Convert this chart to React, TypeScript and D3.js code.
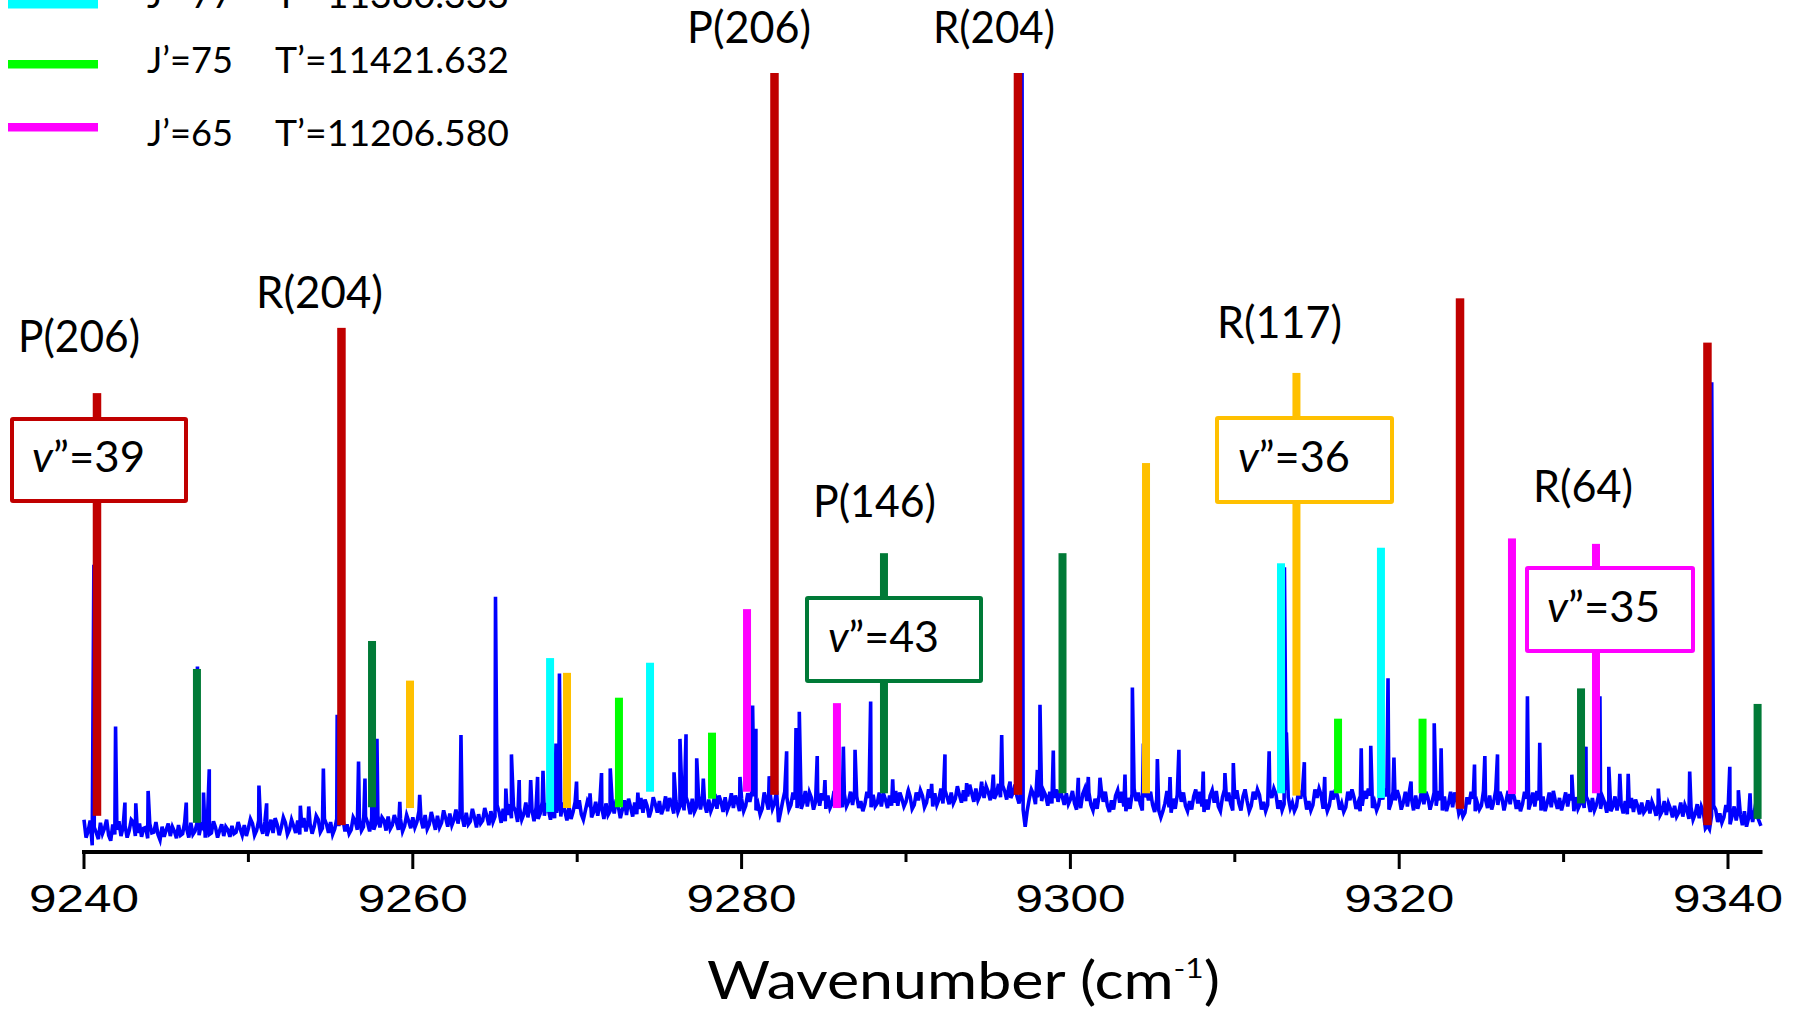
import React from "react";
import * as d3 from "d3";

// ---------- data ----------
const majorTicks = [9240, 9260, 9280, 9300, 9320, 9340];
const minorTicks = [9250, 9270, 9290, 9310, 9330];
const axisEnd = 9342.1;

// measured spectrum baseline, sampled every 0.25 cm-1 from 9240.00 to 9342.00
const baseStart = 9240;
const baseStep = 0.25;
const baseline = [
  // 9240
  3.9, 2.4, 0.6, 2.2, 3.5, 2.8, 1.9, 3.3, 2.6, 1.8,
  3.1, 2.5, 3.6, 2.2, 1.7, 2.9, 3.4, 2.3, 2.0, 3.0,
  2.6, 1.8, 2.4, 3.2, 2.1, 2.7, 3.5, 2.4, 1.9, 2.8,
  3.3, 2.2, 2.9, 2.5, 1.8, 2.6, 3.1, 2.3, 2.7, 3.2,
  // 9250
  2.8, 3.4, 2.5, 3.0, 3.6, 2.7, 2.2, 3.3, 2.9, 3.5,
  2.6, 3.1, 3.8, 2.9, 2.4, 3.4, 3.0, 3.9, 2.8, 3.3,
  3.6, 2.7, 3.1, 4.0, 3.3, 2.6, 3.7, 4.2, 3.0, 3.5,
  4.1, 3.4, 2.9, 3.8, 4.3, 3.2, 3.6, 4.0, 3.1, 3.7,
  // 9260
  4.2, 3.6, 3.9, 4.5, 3.3, 3.8, 4.4, 3.5, 4.1, 4.7,
  3.9, 3.4, 4.3, 4.8, 3.7, 4.2, 4.6, 3.8, 4.4, 5.0,
  4.3, 4.9, 5.3, 4.5, 4.1, 5.0, 5.4, 4.6, 4.2, 5.1,
  5.5, 4.7, 4.4, 5.2, 5.7, 4.8, 4.3, 5.0, 5.6, 4.9,
  // 9270
  5.3, 4.6, 5.1, 5.8, 4.9, 4.4, 5.4, 6.0, 5.0, 4.7,
  5.6, 5.2, 4.5, 5.5, 6.1, 5.3, 4.8, 5.7, 5.1, 5.9,
  6.3, 5.4, 5.0, 5.8, 6.4, 5.6, 5.1, 6.0, 6.6, 5.5,
  5.2, 5.9, 6.5, 5.7, 5.3, 6.2, 6.8, 5.8, 5.4, 6.1,
  // 9280
  6.6, 5.7, 6.2, 6.9, 5.9, 5.3, 6.4, 7.0, 6.0, 3.6,
  6.3, 6.8, 5.8, 6.5, 7.1, 6.1, 5.6, 6.7, 6.2, 5.7,
  6.4, 7.0, 6.0, 5.5, 6.6, 7.2, 6.2, 5.8, 6.9, 6.3,
  5.9, 6.7, 7.1, 6.0, 5.6, 6.5, 7.0, 6.1, 5.7, 6.6,
  // 9290
  6.2, 6.9, 5.8, 6.4, 7.0, 6.1, 6.7, 7.3, 6.5, 6.0,
  6.8, 7.4, 6.6, 7.1, 7.7, 6.9, 7.3, 7.9, 7.0, 6.7,
  7.5, 8.0, 7.2, 6.8, 7.6, 8.1, 7.3, 6.9, 7.4, 3.0,
  6.6, 7.2, 6.8, 6.3, 7.0, 7.5, 6.7, 6.2, 6.9, 7.3,
  // 9300
  6.5, 6.0, 6.8, 7.2, 6.3, 5.8, 6.6, 7.1, 6.2, 5.7,
  6.4, 7.0, 6.1, 5.6, 6.7, 7.2, 6.3, 5.9, 6.8, 6.4,
  5.8, 6.5, 4.2, 6.0, 5.5, 6.6, 7.1, 6.2, 5.7, 6.3,
  6.9, 6.0, 5.6, 6.5, 7.0, 6.1, 5.6, 6.8, 6.3, 5.9,
  // 9310
  6.6, 6.0, 6.9, 6.3, 5.7, 6.5, 7.1, 6.2, 5.8, 6.7,
  7.2, 6.4, 5.9, 6.8, 6.1, 5.6, 6.6, 7.0, 6.3, 5.8,
  6.7, 7.1, 6.2, 5.7, 6.5, 6.9, 6.0, 5.5, 6.4, 6.8,
  6.1, 5.7, 6.6, 7.0, 6.2, 5.8, 6.5, 6.9, 6.0, 6.4,
  // 9320
  6.8, 6.1, 5.6, 6.6, 7.0, 6.3, 5.9, 6.7, 6.2, 5.7,
  6.4, 6.9, 6.0, 5.5, 6.5, 5.4, 4.8, 5.9, 6.6, 6.1,
  5.7, 6.5, 7.0, 6.2, 5.8, 6.7, 6.3, 5.9, 6.8, 6.4,
  5.9, 6.6, 6.1, 5.6, 6.4, 6.9, 6.0, 5.5, 6.3, 6.7,
  // 9330
  6.2, 5.6, 6.4, 6.8, 5.9, 5.4, 6.3, 6.7, 5.8, 5.3,
  6.1, 6.5, 5.6, 5.1, 5.9, 6.3, 5.4, 4.9, 5.7, 6.1,
  5.2, 4.7, 5.5, 5.9, 5.0, 4.5, 5.3, 5.7, 4.8, 4.3,
  5.1, 5.5, 4.6, 4.1, 4.9, 3.2, 4.4, 5.2, 4.7, 4.2,
  // 9340
  4.9, 4.4, 3.8, 4.6, 5.0, 4.1, 3.6, 4.5, 3.1,
];

// measured baseline between those samples (9240.125, 9240.375, ... 9341.875)
const baselineMid = [
  // 9240
  1.6, 3.8, 2.9, 1.4, 2.1, 3.9, 1.2, 2.0, 3.7, 2.9,
  1.6, 3.9, 1.8, 3.4, 2.8, 1.5, 2.2, 3.6, 1.3, 1.7,
  3.4, 3.0, 1.5, 1.9, 3.6, 1.6, 2.0, 3.5, 3.2, 1.6,
  2.0, 3.7, 1.6, 3.3, 3.0, 1.7, 2.1, 3.6, 1.9, 1.8,
  // 9250
  4.0, 1.9, 3.8, 2.1, 1.8, 3.9, 4.1, 1.9, 4.2, 2.0,
  3.9, 2.2, 2.0, 4.1, 3.6, 2.1, 4.4, 2.3, 4.0, 2.2,
  2.0, 4.0, 4.3, 2.4, 2.1, 4.2, 2.6, 2.5, 4.3, 2.4,
  2.6, 4.4, 4.2, 2.5, 2.7, 4.5, 2.6, 2.4, 4.5, 2.8,
  // 9260
  2.9, 5.0, 2.8, 2.7, 4.9, 2.6, 2.9, 5.1, 3.0, 3.2,
  5.2, 5.0, 3.0, 3.3, 5.3, 2.9, 3.4, 5.4, 3.2, 3.6,
  5.8, 3.5, 3.7, 5.9, 5.6, 3.6, 3.9, 6.1, 5.8, 3.7,
  4.0, 6.2, 6.0, 3.9, 4.1, 6.3, 6.1, 3.8, 4.0, 6.2,
  // 9270
  6.4, 3.9, 6.3, 4.2, 6.2, 6.0, 4.0, 4.5, 6.3, 6.5,
  4.1, 6.4, 6.6, 4.3, 4.6, 6.7, 6.5, 4.2, 6.8, 4.8,
  4.6, 6.9, 6.7, 4.7, 4.9, 7.0, 6.8, 4.6, 4.9, 7.1,
  6.9, 4.8, 5.0, 7.2, 7.0, 4.9, 5.1, 7.3, 7.0, 5.0,
  // 9280
  5.0, 7.3, 7.5, 5.1, 4.6, 7.4, 5.2, 5.3, 7.6, 4.9,
  7.5, 5.2, 7.4, 5.4, 5.3, 7.6, 7.4, 5.2, 7.5, 7.3,
  5.3, 5.4, 7.6, 7.3, 5.5, 5.6, 7.5, 7.6, 5.4, 5.0,
  7.5, 5.5, 5.6, 7.4, 7.3, 5.4, 5.7, 7.6, 7.4, 5.6,
  // 9290
  7.6, 5.3, 7.4, 7.7, 5.5, 7.8, 5.6, 5.8, 7.9, 7.7,
  5.9, 6.0, 8.2, 6.1, 6.3, 8.4, 6.2, 6.4, 8.3, 8.2,
  6.4, 6.6, 8.5, 8.3, 6.5, 6.7, 8.4, 6.0, 5.2, 5.1,
  7.8, 5.9, 7.9, 7.6, 5.7, 6.0, 7.8, 7.7, 5.8, 5.9,
  // 9300
  7.6, 5.2, 5.4, 7.9, 7.4, 5.1, 5.3, 7.8, 7.5, 4.9,
  5.2, 7.7, 7.5, 5.0, 5.3, 7.9, 7.4, 5.1, 7.7, 7.5,
  4.9, 5.1, 5.0, 7.6, 4.8, 5.3, 7.8, 7.4, 5.0, 5.2,
  7.8, 7.5, 4.9, 5.2, 7.7, 7.6, 5.0, 7.8, 7.4, 5.1,
  // 9310
  7.7, 5.1, 7.8, 5.0, 7.5, 7.8, 5.2, 5.0, 7.6, 7.9,
  5.3, 5.1, 7.7, 5.4, 5.0, 7.6, 7.9, 5.2, 5.1, 7.8,
  7.9, 5.3, 5.0, 7.6, 7.8, 5.2, 4.9, 7.5, 7.8, 5.3,
  5.0, 7.6, 7.9, 5.4, 5.1, 7.7, 7.9, 5.2, 7.5, 7.7,
  // 9320
  5.2, 7.5, 7.6, 5.1, 5.3, 7.8, 7.5, 5.2, 7.4, 7.6,
  5.1, 5.0, 7.5, 7.4, 4.7, 4.3, 6.8, 7.5, 5.0, 5.2,
  7.6, 5.4, 5.2, 7.7, 7.5, 5.1, 7.6, 7.8, 5.3, 5.0,
  7.5, 5.2, 7.4, 7.6, 5.1, 5.0, 7.4, 7.6, 5.3, 5.1,
  // 9330
  7.4, 7.2, 5.0, 5.3, 7.1, 6.9, 4.9, 5.1, 7.0, 6.8,
  4.8, 5.0, 6.9, 6.6, 4.7, 4.6, 6.7, 6.5, 4.6, 4.8,
  6.4, 6.2, 4.4, 4.5, 6.3, 6.0, 4.2, 4.3, 6.1, 5.8,
  4.0, 3.9, 5.9, 5.6, 2.8, 2.7, 5.7, 3.6, 3.5, 5.8,
  // 9340
  3.3, 5.6, 5.4, 3.2, 3.0, 5.3, 5.2, 3.8,
];

// measured spectral peaks [wavenumber, intensity]
const peaks: [number, number][] = [
  [9240.6, 36.7], [9241.92, 15.9], [9242.49, 6.1], [9243.15, 6.0], [9243.9, 7.6],
  [9246.22, 6.1], [9246.9, 23.6], [9247.27, 7.4], [9247.62, 10.4], [9250.64, 8.3],
  [9251.11, 6.0], [9253.16, 5.7], [9253.67, 5.6], [9254.56, 10.5], [9255.4, 17.4],
  [9256.7, 11.4], [9257.09, 9.2], [9257.55, 26.5], [9257.82, 14.3], [9259.21, 6.2],
  [9260.42, 7.1], [9262.93, 14.8], [9265.03, 32.6], [9265.66, 7.9], [9266.0, 12.3],
  [9266.47, 9.0], [9267.17, 9.0], [9267.59, 9.4], [9267.92, 10.2], [9268.71, 13.7],
  [9268.92, 22.7], [9269.96, 8.8], [9270.78, 7.3], [9271.48, 9.9], [9272.01, 10.5],
  [9273.69, 7.4], [9275.89, 10.0], [9276.25, 14.3], [9276.62, 14.9], [9277.27, 11.8],
  [9277.67, 9.2], [9279.9, 9.4], [9280.67, 18.6], [9280.87, 15.6], [9281.68, 9.5],
  [9282.74, 12.7], [9283.31, 15.7], [9283.51, 17.8], [9284.6, 12.1], [9285.07, 9.0],
  [9286.19, 13.3], [9286.9, 12.9], [9287.85, 19.1], [9289.19, 9.1], [9290.14, 7.7],
  [9291.56, 8.5], [9292.37, 12.3], [9293.69, 8.6], [9294.6, 8.8], [9295.31, 9.7],
  [9295.82, 14.8], [9296.33, 8.8], [9297.06, 100], [9297.99, 10.3], [9298.15, 18.7],
  [9298.96, 12.8], [9300.48, 9.3], [9301.09, 9.4], [9301.8, 9.3], [9303.32, 9.7],
  [9303.77, 20.9], [9304.44, 13.7], [9305.29, 11.7], [9306.06, 9.4], [9306.6, 12.9],
  [9308.08, 10.1], [9309.4, 9.9], [9309.91, 11.2], [9312.09, 12.7], [9313.02, 36.4],
  [9313.14, 15.1], [9314.23, 11.3], [9315.47, 9.4], [9317.69, 13.1], [9318.27, 13.4],
  [9319.32, 22.1], [9319.68, 11.9], [9320.72, 8.8], [9322.13, 16.3], [9322.55, 13.1],
  [9324.58, 11.0], [9325.21, 12.1], [9325.98, 12.3], [9327.8, 19.8], [9328.55, 13.8],
  [9330.5, 9.7], [9331.36, 13.3], [9332.21, 19.8], [9332.75, 10.7], [9333.42, 9.8],
  [9333.93, 9.8], [9335.76, 7.9], [9337.67, 10.1], [9339.01, 60.2], [9340.11, 10.7],
  [9340.63, 7.7], [9341.34, 7.3],
];

// assigned lines [wavenumber, top intensity, base intensity]
const redLines: [number, number, number][] = [
  [9240.79, 58.8, 4.4], [9255.66, 67.2, 3.2], [9282.0, 100, 7.1],
  [9296.81, 100, 7.1], [9323.7, 71.0, 5.3], [9338.75, 65.3, 3.2],
];
const darkGreenLines: [number, number, number][] = [
  [9246.87, 23.3, 3.5], [9257.52, 26.9, 5.5], [9288.66, 38.2, 7.3],
  [9299.52, 38.2, 7.3], [9331.06, 20.8, 6.0], [9341.8, 18.8, 4.0],
];
const yellowLines: [number, number, number][] = [
  [9259.83, 21.8, 5.4], [9269.38, 22.8, 5.4], [9304.6, 49.8, 7.3], [9313.75, 61.4, 7.0],
];
const cyanLines: [number, number, number][] = [
  [9268.35, 24.7, 4.9], [9274.43, 24.1, 7.5], [9312.81, 36.9, 7.3], [9318.89, 38.9, 6.7],
];
const greenLines: [number, number, number][] = [
  [9272.54, 19.6, 5.5], [9278.2, 15.1, 6.6], [9316.28, 16.9, 7.3], [9321.42, 16.9, 7.3],
];
const magentaLines: [number, number, number][] = [
  [9280.33, 31.0, 7.5], [9285.8, 18.9, 5.4], [9326.86, 40.1, 7.2], [9331.97, 39.4, 7.3],
];

const legendJ = ["J\u2019=77", "J\u2019=75", "J\u2019=65"];
const legendT = ["T\u2019=11380.333", "T\u2019=11421.632", "T\u2019=11206.580"];

const branchLabels = ["P(206)", "R(204)", "P(206)", "R(204)", "P(146)", "R(117)", "R(64)"];
const vLabels = ["39", "43", "36", "35"];

// ---------- styles / layout ----------
const C = {
  red: "#C00000",
  dkgreen: "#007A37",
  yellow: "#FFC000",
  cyan: "#00FFFF",
  green: "#00FF00",
  magenta: "#FF00FF",
  blue: "#0000FF",
};
const FONT = "Lato, 'Open Sans', sans-serif";

const legendLayout = [
  { color: C.cyan, lineY: 4, textY: 8 },
  { color: C.green, lineY: 64, textY: 73 },
  { color: C.magenta, lineY: 127, textY: 146 },
];

const labelLayout = [
  { x: 18, y: 352, w: 122 },
  { x: 256, y: 308, w: 127 },
  { x: 687, y: 43, w: 124 },
  { x: 933, y: 43, w: 122 },
  { x: 813, y: 517, w: 123 },
  { x: 1217, y: 338, w: 125 },
  { x: 1533, y: 502, w: 100 },
];

const boxLayout = [
  { color: C.red, x: 10, y: 417, w: 178, h: 86, tx: 32, ty: 472, tw: 113 },
  { color: C.dkgreen, x: 805, y: 596, w: 178, h: 87, tx: 828, ty: 652, tw: 111 },
  { color: C.yellow, x: 1215, y: 416, w: 179, h: 88, tx: 1238, ty: 472, tw: 112 },
  { color: C.magenta, x: 1525, y: 566, w: 170, h: 87, tx: 1547, ty: 622, tw: 113 },
];

export default function App() {
  const W = 1802;
  const H = 1015;
  const x = d3.scaleLinear().domain([9240, 9340]).range([84, 1728]);
  const y = d3.scaleLinear().domain([0, 100]).range([850, 73]);

  const basePts: [number, number][] = baseline.map((v, i) => [baseStart + i * baseStep, v]);
  const midPts: [number, number][] = baselineMid.map((v, i) => [
    baseStart + baseStep / 2 + i * baseStep,
    v,
  ]);
  const pts = [...basePts, ...midPts, ...peaks].sort((a, b) => a[0] - b[0]);
  const line = d3
    .line<[number, number]>()
    .x((d) => x(d[0]))
    .y((d) => y(d[1]));

  const sticks = (data: [number, number, number][], color: string, width: number) =>
    data.map((d, i) => (
      <rect
        key={color + i}
        x={x(d[0]) - width / 2}
        y={y(d[1])}
        width={width}
        height={y(d[2]) - y(d[1])}
        fill={color}
      />
    ));

  const axisY = 852;

  return (
    <svg
      width={W}
      height={H}
      style={{ position: "absolute", left: 0, top: 0, background: "#fff" }}
      xmlns="http://www.w3.org/2000/svg"
    >
      <rect x={0} y={0} width={W} height={H} fill="#fff" />

      {/* legend */}
      {legendLayout.map((l, i) => (
        <g key={"lg" + i}>
          <rect x={8} y={l.lineY - 4} width={90} height={8.5} fill={l.color} />
          <text x={147} y={l.textY} fontFamily={FONT} fontSize={36} fill="#000"
            textLength={86} lengthAdjust="spacingAndGlyphs">
            {legendJ[i]}
          </text>
          <text x={275} y={l.textY} fontFamily={FONT} fontSize={36} fill="#000"
            textLength={234} lengthAdjust="spacingAndGlyphs">
            {legendT[i]}
          </text>
        </g>
      ))}

      {/* spectrum */}
      <path d={line(pts) || ""} fill="none" stroke={C.blue} strokeWidth={3.6} />

      {/* assigned lines */}
      {sticks(darkGreenLines, C.dkgreen, 8)}
      {sticks(yellowLines, C.yellow, 8)}
      {sticks(cyanLines, C.cyan, 8)}
      {sticks(greenLines, C.green, 8)}
      {sticks(magentaLines, C.magenta, 8)}
      {sticks(redLines, C.red, 8.5)}

      {/* v'' boxes */}
      {boxLayout.map((b, i) => (
        <g key={"bx" + i}>
          <rect x={b.x + 2} y={b.y + 2} width={b.w - 4} height={b.h - 4}
            fill="#fff" stroke={b.color} strokeWidth={4} rx={1} />
          <text x={b.tx} y={b.ty} fontFamily={FONT} fontSize={42} fill="#000"
            textLength={b.tw} lengthAdjust="spacingAndGlyphs">
            <tspan fontStyle="italic">v</tspan>
            {"\u201D=" + vLabels[i]}
          </text>
        </g>
      ))}

      {/* branch labels */}
      {labelLayout.map((l, i) => (
        <text key={"bl" + i} x={l.x} y={l.y} fontFamily={FONT} fontSize={44} fill="#000"
          textLength={l.w} lengthAdjust="spacingAndGlyphs">
          {branchLabels[i]}
        </text>
      ))}

      {/* x axis */}
      <line x1={x(9240) - 2} x2={x(axisEnd)} y1={axisY} y2={axisY} stroke="#000" strokeWidth={4} />
      {majorTicks.map((t) => (
        <g key={"mt" + t}>
          <line x1={x(t)} x2={x(t)} y1={axisY} y2={axisY + 17} stroke="#000" strokeWidth={3} />
          <text x={x(t)} y={912} textAnchor="middle" fontFamily="'Liberation Sans', Arial, sans-serif"
            fontSize={39} fill="#000" textLength={110} lengthAdjust="spacingAndGlyphs">
            {t}
          </text>
        </g>
      ))}
      {minorTicks.map((t) => (
        <line key={"mn" + t} x1={x(t)} x2={x(t)} y1={axisY} y2={axisY + 10} stroke="#000" strokeWidth={3} />
      ))}

      <text x={707} y={999} fontFamily={FONT} fontSize={52} fill="#000"
        textLength={513} lengthAdjust="spacingAndGlyphs">
        Wavenumber (cm
        <tspan fontSize={27} dy={-21}>-1</tspan>
        <tspan dy={21}>)</tspan>
      </text>
    </svg>
  );
}
